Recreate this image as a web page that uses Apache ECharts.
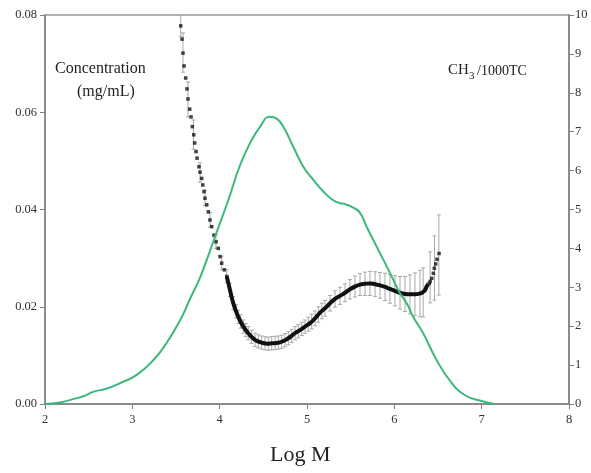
<!DOCTYPE html>
<html>
<head>
<meta charset="utf-8">
<script src="https://cdn.jsdelivr.net/npm/echarts@6/dist/echarts.min.js"></script>
<style>
html,body{margin:0;padding:0;background:#fff;}
#c{width:591px;height:473px;}
</style>
</head>
<body>
<div id="c"></div>
<script>
// Concentration (green curve, left axis)
var concX = [2.0, 2.17, 2.32, 2.44, 2.55, 2.71, 2.86, 3.05, 3.24, 3.39, 3.55, 3.66, 3.775, 3.947, 4.1, 4.233, 4.347, 4.462, 4.576, 4.653, 4.729, 4.843, 4.958, 5.072, 5.187, 5.301, 5.378, 5.416, 5.53, 5.607, 5.684, 5.76, 5.836, 5.913, 5.989, 6.065, 6.141, 6.217, 6.332, 6.485, 6.65, 6.81, 7.0, 7.15];
var concY = [0.0, 0.0003, 0.001, 0.0016, 0.0025, 0.0032, 0.0043, 0.006, 0.009, 0.0125, 0.0173, 0.0216, 0.026, 0.0344, 0.042, 0.0491, 0.0536, 0.057, 0.0591, 0.0587, 0.057, 0.0529, 0.0488, 0.0461, 0.0437, 0.0419, 0.0413, 0.0412, 0.0404, 0.0393, 0.0364, 0.0337, 0.031, 0.0283, 0.0255, 0.0228, 0.0207, 0.0179, 0.0145, 0.009, 0.0045, 0.0018, 0.0006, 0.0];

// CH3/1000TC - separated dots (steep part)
var ch3DotsX = [3.554, 3.569, 3.580, 3.592, 3.611, 3.626, 3.637, 3.657, 3.672, 3.687, 3.703, 3.714, 3.729, 3.741, 3.763, 3.775, 3.794, 3.806, 3.821, 3.832, 3.852, 3.870, 3.889, 3.909, 3.935, 3.958, 3.984, 4.004, 4.023, 4.053, 4.081];
var ch3DotsY = [9.72, 9.38, 9.02, 8.69, 8.38, 8.10, 7.84, 7.58, 7.38, 7.13, 6.92, 6.71, 6.49, 6.32, 6.10, 5.96, 5.80, 5.63, 5.46, 5.29, 5.12, 4.94, 4.73, 4.56, 4.34, 4.17, 4.00, 3.79, 3.62, 3.45, 3.28];
// CH3/1000TC - dense part (appears as thick line)
var ch3LineX = [4.081, 4.118, 4.156, 4.213, 4.271, 4.328, 4.405, 4.481, 4.55, 4.596, 4.65, 4.710, 4.786, 4.863, 4.92, 4.977, 5.035, 5.092, 5.15, 5.206, 5.264, 5.321, 5.378, 5.435, 5.492, 5.55, 5.607, 5.664, 5.721, 5.78, 5.836, 5.893, 5.950, 6.007, 6.065, 6.122, 6.179, 6.236, 6.294, 6.33, 6.351, 6.37, 6.389];
var ch3LineY = [3.28, 2.93, 2.59, 2.24, 1.99, 1.82, 1.65, 1.58, 1.55, 1.56, 1.57, 1.60, 1.69, 1.82, 1.90, 1.99, 2.08, 2.20, 2.35, 2.46, 2.59, 2.70, 2.78, 2.86, 2.95, 3.02, 3.07, 3.09, 3.10, 3.08, 3.05, 3.01, 2.96, 2.91, 2.86, 2.83, 2.82, 2.82, 2.84, 2.88, 2.93, 3.02, 3.08];
// tail dots
var ch3TailX = [6.40, 6.41, 6.428, 6.447, 6.458, 6.474, 6.489, 6.512];
var ch3TailY = [3.10, 3.15, 3.23, 3.36, 3.49, 3.60, 3.72, 3.87];

// Error bars
var errX = [3.554, 3.58, 3.637, 3.70, 3.775, 3.832, 3.889, 3.958, 4.023, 4.081, 4.118, 4.156, 4.19, 4.213, 4.24, 4.271, 4.30, 4.328, 4.366, 4.405, 4.443, 4.481, 4.52, 4.558, 4.596, 4.634, 4.672, 4.710, 4.748, 4.786, 4.825, 4.863, 4.90, 4.94, 4.977, 5.015, 5.054, 5.092, 5.13, 5.17, 5.206, 5.264, 5.321, 5.378, 5.435, 5.492, 5.55, 5.607, 5.664, 5.721, 5.78, 5.836, 5.893, 5.95, 6.007, 6.065, 6.122, 6.179, 6.236, 6.294, 6.33, 6.41, 6.46, 6.51];
var errLow = [9.44, 8.53, 7.38, 6.55, 5.70, 5.10, 4.55, 4.00, 3.45, 3.12, 2.76, 2.42, 2.21, 2.07, 1.95, 1.82, 1.73, 1.65, 1.56, 1.48, 1.44, 1.41, 1.39, 1.38, 1.39, 1.40, 1.41, 1.43, 1.47, 1.52, 1.58, 1.65, 1.70, 1.76, 1.82, 1.87, 1.93, 2.01, 2.10, 2.19, 2.26, 2.39, 2.49, 2.56, 2.63, 2.70, 2.75, 2.79, 2.79, 2.79, 2.76, 2.72, 2.66, 2.59, 2.52, 2.44, 2.38, 2.32, 2.27, 2.24, 2.24, 2.60, 2.67, 2.80];
var errHigh = [10.0, 9.54, 8.28, 7.30, 6.20, 5.50, 4.92, 4.35, 3.80, 3.45, 3.10, 2.76, 2.55, 2.41, 2.29, 2.16, 2.07, 1.99, 1.90, 1.82, 1.78, 1.75, 1.73, 1.72, 1.73, 1.74, 1.75, 1.77, 1.81, 1.86, 1.92, 1.99, 2.04, 2.10, 2.16, 2.23, 2.31, 2.39, 2.50, 2.59, 2.66, 2.79, 2.91, 3.00, 3.09, 3.20, 3.29, 3.35, 3.39, 3.41, 3.40, 3.38, 3.36, 3.33, 3.30, 3.28, 3.28, 3.32, 3.37, 3.44, 3.50, 3.91, 4.32, 4.86];

// Axis ticks
var xTicks = [2, 3, 4, 5, 6, 7, 8];
var leftTicks = ['0.00', '0.02', '0.04', '0.06', '0.08'];

function zip(a, b) { return a.map(function (v, i) { return [v, b[i]]; }); }

var chart = echarts.init(document.getElementById('c'), null, {renderer: 'canvas'});
var serif = 'Liberation Serif';
var axisGray = '#7f7f7f';

var option = {
  animation: false,
  backgroundColor: '#fff',
  grid: {left: 45, right: 22, top: 15, bottom: 69, show: true, borderColor: '#999', borderWidth: 1.5},
  xAxis: {
    type: 'value', min: 2, max: 8, interval: 1,
    axisLine: {lineStyle: {color: axisGray, width: 1.5}},
    axisTick: {show: true, length: 5, inside: false, lineStyle: {color: axisGray}},
    splitLine: {show: false},
    axisLabel: {color: '#333', fontFamily: serif, fontSize: 12.5, margin: 9,
      formatter: function (v) { return xTicks.indexOf(v) >= 0 ? String(v) : ''; }}
  },
  yAxis: [{
    type: 'value', min: 0, max: 0.08, interval: 0.02, position: 'left',
    axisLine: {show: true, lineStyle: {color: axisGray, width: 1.5}},
    axisTick: {show: true, length: 5, lineStyle: {color: axisGray}},
    splitLine: {show: false},
    axisLabel: {color: '#333', fontFamily: serif, fontSize: 12.5, margin: 8,
      formatter: function (v) { return leftTicks[Math.round(v / 0.02)]; }}
  }, {
    type: 'value', min: 0, max: 10, interval: 1, position: 'right',
    axisLine: {show: true, lineStyle: {color: axisGray, width: 1.5}},
    axisTick: {show: true, length: 5, lineStyle: {color: axisGray}},
    splitLine: {show: false},
    axisLabel: {color: '#333', fontFamily: serif, fontSize: 12.5, margin: 6}
  }],
  series: [{
    type: 'custom', yAxisIndex: 1, z: 2,
    data: errX.map(function (x, i) { return [x, errLow[i], errHigh[i]]; }),
    renderItem: function (params, api) {
      var x = api.value(0);
      var p1 = api.coord([x, api.value(1)]);
      var p2 = api.coord([x, api.value(2)]);
      var st = {stroke: '#a8a8a8', lineWidth: 1};
      return {type: 'group', children: [
        {type: 'line', shape: {x1: p1[0], y1: p1[1], x2: p2[0], y2: p2[1]}, style: st},
        {type: 'line', shape: {x1: p1[0] - 2, y1: p1[1], x2: p1[0] + 2, y2: p1[1]}, style: st},
        {type: 'line', shape: {x1: p2[0] - 2, y1: p2[1], x2: p2[0] + 2, y2: p2[1]}, style: st}
      ]};
    }
  }, {
    type: 'line', yAxisIndex: 1, z: 3,
    data: zip(ch3LineX, ch3LineY), smooth: true,
    showSymbol: false, symbol: 'none',
    lineStyle: {color: '#111', width: 4}
  }, {
    type: 'scatter', yAxisIndex: 1, z: 4,
    data: zip(ch3DotsX, ch3DotsY).concat(zip(ch3TailX, ch3TailY)),
    symbol: 'rect', symbolSize: 3.5,
    itemStyle: {color: '#111'}
  }, {
    type: 'line', yAxisIndex: 0, z: 5,
    data: zip(concX, concY), smooth: 0.5, showSymbol: false, symbol: 'none',
    lineStyle: {color: '#3db87d', width: 2}
  }],
  graphic: [
    {type: 'text', left: 55, top: 61, style: {text: 'Concentration', font: '16px "Liberation Serif"', fill: '#222'}},
    {type: 'text', left: 77, top: 84, style: {text: '(mg/mL)', font: '16px "Liberation Serif"', fill: '#222'}},
    {type: 'text', left: 448, top: 63, style: {text: 'CH', font: '15px "Liberation Serif"', fill: '#222'}},
    {type: 'text', left: 469, top: 71, style: {text: '3', font: '11px "Liberation Serif"', fill: '#222'}},
    {type: 'text', left: 477, top: 64, style: {text: '/1000TC', font: '14px "Liberation Serif"', fill: '#222'}},
    {type: 'text', left: 270, top: 444, style: {text: 'Log M', font: '22px "Liberation Serif"', fill: '#222'}}
  ]
};
chart.setOption(option);
</script>
</body>
</html>
